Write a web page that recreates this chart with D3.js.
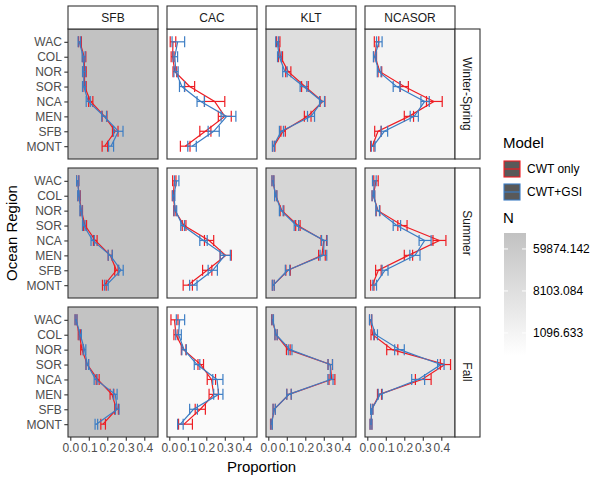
<!DOCTYPE html>
<html><head><meta charset="utf-8">
<script src="https://cdn.jsdelivr.net/npm/d3@7"></script>
<style>body{margin:0;background:#fff} text{font-family:"Liberation Sans",Arial,sans-serif}</style>
</head><body><svg id="c" width="600" height="480"></svg>
<script>
const regions = ["WAC","COL","NOR","SOR","NCA","MEN","SFB","MONT"];
const hatcheries = ["SFB","CAC","KLT","NCASOR"];
const seasons = ["Winter-Spring","Summer","Fall"];
const models = ["CWT only","CWT+GSI"];
const xTicks = [0,0.1,0.2,0.3,0.4];
const nTicks = [1096.633, 8103.084, 59874.142];
// N per panel (hatchery order) for each season
const nWinterSpring = [128000, 384, 8400, 1100];
const nSummer = [115000, 900, 18700, 2200];
const nFall = [120000, 590, 15000, 3700];
// [estimate, lower, upper] per region, Winter-Spring
const ws_SFB_cwt = [[0.052,0.045,0.060],[0.075,0.066,0.084],[0.077,0.068,0.086],[0.077,0.068,0.086],[0.110,0.099,0.122],[0.185,0.172,0.198],[0.243,0.228,0.258],[0.186,0.172,0.202]];
const ws_SFB_gsi = [[0.048,0.042,0.056],[0.071,0.064,0.080],[0.073,0.066,0.082],[0.073,0.066,0.082],[0.097,0.086,0.108],[0.183,0.170,0.196],[0.260,0.234,0.285],[0.220,0.207,0.234]];
const ws_CAC_cwt = [[0.020,0.005,0.035],[0.018,0.010,0.026],[0.030,0.020,0.040],[0.110,0.083,0.137],[0.245,0.190,0.300],[0.300,0.265,0.335],[0.195,0.165,0.225],[0.086,0.060,0.112]];
const ws_CAC_gsi = [[0.045,0.015,0.083],[0.030,0.020,0.045],[0.035,0.025,0.048],[0.068,0.055,0.082],[0.170,0.150,0.190],[0.310,0.280,0.360],[0.240,0.210,0.270],[0.123,0.100,0.146]];
const ws_KLT_cwt = [[0.054,0.045,0.063],[0.066,0.055,0.077],[0.108,0.094,0.122],[0.198,0.180,0.216],[0.294,0.280,0.306],[0.213,0.195,0.231],[0.080,0.068,0.092],[0.030,0.024,0.036]];
const ws_KLT_gsi = [[0.048,0.040,0.056],[0.060,0.050,0.070],[0.090,0.078,0.102],[0.190,0.172,0.208],[0.290,0.277,0.304],[0.231,0.212,0.250],[0.070,0.060,0.082],[0.027,0.022,0.033]];
const ws_NCASOR_cwt = [[0.050,0.038,0.062],[0.042,0.035,0.050],[0.068,0.058,0.078],[0.200,0.178,0.222],[0.360,0.320,0.405],[0.225,0.200,0.250],[0.058,0.040,0.075],[0.027,0.018,0.036]];
const ws_NCASOR_gsi = [[0.063,0.050,0.080],[0.040,0.033,0.048],[0.063,0.054,0.074],[0.158,0.140,0.176],[0.310,0.290,0.335],[0.254,0.232,0.276],[0.092,0.075,0.110],[0.032,0.022,0.042]];
// Summer
const su_SFB_cwt = [[0.040,0.034,0.046],[0.048,0.042,0.054],[0.060,0.054,0.066],[0.080,0.072,0.088],[0.135,0.125,0.145],[0.216,0.205,0.227],[0.249,0.240,0.258],[0.184,0.174,0.194]];
const su_SFB_gsi = [[0.040,0.034,0.046],[0.046,0.040,0.052],[0.058,0.052,0.064],[0.073,0.066,0.080],[0.121,0.112,0.130],[0.216,0.205,0.227],[0.274,0.262,0.286],[0.195,0.185,0.205]];
const su_CAC_cwt = [[0.027,0.018,0.036],[0.022,0.016,0.028],[0.030,0.024,0.036],[0.080,0.070,0.090],[0.215,0.190,0.240],[0.305,0.275,0.335],[0.205,0.180,0.230],[0.100,0.075,0.125]];
const su_CAC_gsi = [[0.040,0.028,0.052],[0.024,0.018,0.030],[0.033,0.026,0.040],[0.072,0.062,0.082],[0.185,0.165,0.205],[0.300,0.275,0.330],[0.235,0.210,0.260],[0.130,0.110,0.150]];
const su_KLT_cwt = [[0.025,0.020,0.030],[0.040,0.034,0.046],[0.074,0.064,0.084],[0.160,0.148,0.172],[0.300,0.285,0.315],[0.290,0.272,0.308],[0.107,0.095,0.119],[0.027,0.022,0.032]];
const su_KLT_gsi = [[0.025,0.020,0.030],[0.040,0.034,0.046],[0.070,0.060,0.080],[0.152,0.140,0.164],[0.302,0.288,0.318],[0.298,0.280,0.316],[0.104,0.092,0.116],[0.027,0.022,0.032]];
const su_NCASOR_cwt = [[0.047,0.035,0.059],[0.033,0.026,0.040],[0.058,0.048,0.068],[0.190,0.165,0.215],[0.390,0.355,0.425],[0.222,0.200,0.245],[0.060,0.045,0.075],[0.027,0.018,0.036]];
const su_NCASOR_gsi = [[0.038,0.028,0.048],[0.033,0.026,0.040],[0.056,0.046,0.066],[0.160,0.140,0.180],[0.310,0.280,0.345],[0.258,0.230,0.285],[0.096,0.080,0.112],[0.040,0.030,0.050]];
// Fall
const fa_SFB_cwt = [[0.031,0.026,0.036],[0.049,0.043,0.055],[0.063,0.056,0.070],[0.092,0.085,0.099],[0.148,0.140,0.156],[0.225,0.215,0.235],[0.250,0.240,0.260],[0.177,0.165,0.190]];
const fa_SFB_gsi = [[0.031,0.026,0.036],[0.054,0.048,0.060],[0.077,0.070,0.084],[0.092,0.085,0.099],[0.137,0.129,0.145],[0.243,0.233,0.253],[0.254,0.244,0.264],[0.141,0.134,0.148]];
const fa_CAC_cwt = [[0.028,0.009,0.047],[0.036,0.025,0.047],[0.077,0.065,0.090],[0.170,0.155,0.185],[0.228,0.205,0.250],[0.240,0.215,0.265],[0.168,0.140,0.195],[0.080,0.050,0.125]];
const fa_CAC_gsi = [[0.056,0.038,0.083],[0.050,0.035,0.065],[0.080,0.068,0.092],[0.150,0.135,0.165],[0.258,0.235,0.290],[0.267,0.240,0.290],[0.131,0.110,0.152],[0.060,0.045,0.075]];
const fa_KLT_cwt = [[0.022,0.018,0.026],[0.042,0.036,0.048],[0.108,0.098,0.118],[0.335,0.323,0.347],[0.343,0.328,0.360],[0.112,0.100,0.124],[0.032,0.026,0.038],[0.016,0.012,0.020]];
const fa_KLT_gsi = [[0.024,0.020,0.028],[0.042,0.036,0.048],[0.118,0.108,0.128],[0.335,0.323,0.347],[0.336,0.322,0.350],[0.112,0.100,0.124],[0.032,0.026,0.038],[0.018,0.014,0.022]];
const fa_NCASOR_cwt = [[0.018,0.012,0.024],[0.029,0.020,0.038],[0.135,0.105,0.165],[0.420,0.395,0.450],[0.295,0.260,0.345],[0.066,0.055,0.077],[0.024,0.018,0.030],[0.020,0.015,0.025]];
const fa_NCASOR_gsi = [[0.018,0.012,0.024],[0.045,0.035,0.055],[0.175,0.148,0.200],[0.398,0.380,0.415],[0.275,0.240,0.310],[0.070,0.059,0.081],[0.024,0.018,0.030],[0.020,0.015,0.025]];

const panelData = [
  [[ws_SFB_cwt,ws_SFB_gsi],[ws_CAC_cwt,ws_CAC_gsi],[ws_KLT_cwt,ws_KLT_gsi],[ws_NCASOR_cwt,ws_NCASOR_gsi]],
  [[su_SFB_cwt,su_SFB_gsi],[su_CAC_cwt,su_CAC_gsi],[su_KLT_cwt,su_KLT_gsi],[su_NCASOR_cwt,su_NCASOR_gsi]],
  [[fa_SFB_cwt,fa_SFB_gsi],[fa_CAC_cwt,fa_CAC_gsi],[fa_KLT_cwt,fa_KLT_gsi],[fa_NCASOR_cwt,fa_NCASOR_gsi]]
];
const panelN = [nWinterSpring, nSummer, nFall];

const colors = ["#EE1D23","#3C7DC4"];
const svg = d3.select("#c");
const W = 90, H = 130, colStep = 99, rowStep = 139, left0 = 68, top0 = 29;

const x = d3.scaleLinear().domain([-0.0124, 0.4741]).range([0, W]);
const y = d3.scalePoint().domain(regions).range([0, H]).padding(0.86);

const allN = panelN.flat();
const nExt = d3.extent(allN);
const fillScale = d3.scaleLog().domain(nExt).range([0,1]);
const highCol = "#c2c2c2";
const fillOf = n => d3.interpolateLab("#ffffff", highCol)(fillScale(n));

const capH = 11;
const lw = 1.2;

seasons.forEach((s, r) => {
  hatcheries.forEach((h, c) => {
    const g = svg.append("g").attr("transform", `translate(${left0 + c*colStep},${top0 + r*rowStep})`);
    g.append("rect").attr("width", W).attr("height", H).attr("fill", fillOf(panelN[r][c]));
    panelData[r][c].forEach((series, m) => {
      const col = colors[m];
      const line = d3.line().x(d => x(d[0])).y((d,i) => y(regions[i]));
      g.append("path").attr("d", line(series)).attr("fill","none").attr("stroke", col).attr("stroke-width", lw);
      series.forEach((d, i) => {
        const yy = y(regions[i]);
        g.append("line").attr("x1", x(d[1])).attr("x2", x(d[2])).attr("y1", yy).attr("y2", yy).attr("stroke", col).attr("stroke-width", lw);
        [d[1], d[2]].forEach(v => {
          g.append("line").attr("x1", x(v)).attr("x2", x(v)).attr("y1", yy - capH/2).attr("y2", yy + capH/2).attr("stroke", col).attr("stroke-width", lw);
        });
      });
    });
    g.append("rect").attr("width", W).attr("height", H).attr("fill", "none").attr("stroke", "#333333").attr("stroke-width", 1.1);
    if (c === 0) {
      const ax = g.append("g").call(d3.axisLeft(y).tickSize(3.7).tickPadding(2.5));
      ax.select(".domain").remove();
      ax.selectAll("line").attr("stroke", "#333333").attr("stroke-width", 1.1);
      ax.selectAll("text").attr("fill", "#4D4D4D").style("font-size", "12px").style("font-family", '"Liberation Sans",Arial,sans-serif');
    }
    if (r === seasons.length - 1) {
      const ax = g.append("g").attr("transform", `translate(0,${H})`).call(d3.axisBottom(x).tickValues(xTicks).tickFormat(d3.format(".1f")).tickSize(3.7).tickPadding(2.5));
      ax.select(".domain").remove();
      ax.selectAll("line").attr("stroke", "#333333").attr("stroke-width", 1.1);
      ax.selectAll("text").attr("fill", "#4D4D4D").style("font-size", "12px").style("font-family", '"Liberation Sans",Arial,sans-serif');
    }
    if (r === 0) {
      const sg = svg.append("g").attr("transform", `translate(${left0 + c*colStep},${top0 - 23})`);
      sg.append("rect").attr("width", W).attr("height", 23).attr("fill", "#ffffff").attr("stroke", "#333333").attr("stroke-width", 1.1);
      sg.append("text").attr("x", W/2).attr("y", 11.5).attr("dy", "0.35em").attr("text-anchor", "middle").style("font-size", "12px").attr("fill", "#1A1A1A").text(h);
    }
    if (c === hatcheries.length - 1) {
      const sg = svg.append("g").attr("transform", `translate(${left0 + c*colStep + W},${top0 + r*rowStep})`);
      sg.append("rect").attr("width", 25).attr("height", H).attr("fill", "#ffffff").attr("stroke", "#333333").attr("stroke-width", 1.1);
      sg.append("text").attr("transform", `translate(12.5,${H/2}) rotate(90)`).attr("dy", "0.35em").attr("text-anchor", "middle").style("font-size", "12px").attr("fill", "#1A1A1A").text(s);
    }
  });
});

// axis titles
const plotL = left0, plotR = left0 + 3*colStep + W;
svg.append("text").attr("x", (plotL+plotR)/2).attr("y", 472).attr("text-anchor","middle").style("font-size","15px").attr("fill","#000").text("Proportion");
svg.append("text").attr("transform", `translate(17,${top0 + (2*rowStep + H)/2}) rotate(-90)`).attr("text-anchor","middle").style("font-size","15px").attr("fill","#000").text("Ocean Region");

// Model legend
const lg = svg.append("g").attr("transform","translate(503,0)");
lg.append("text").attr("x",0).attr("y",148).style("font-size","15px").attr("fill","#000").text("Model");
models.forEach((m,i) => {
  const ky = 161 + i*23;
  lg.append("rect").attr("x",1).attr("y",ky).attr("width",16).attr("height",16).attr("fill","#595959").attr("stroke",colors[i]).attr("stroke-width",1.1);
  lg.append("line").attr("x1",1).attr("x2",17).attr("y1",ky+8).attr("y2",ky+8).attr("stroke",colors[i]).attr("stroke-width",lw);
  lg.append("text").attr("x",24).attr("y",ky+8).attr("dy","0.35em").style("font-size","12px").attr("fill","#000").text(m);
});

// N colourbar
lg.append("text").attr("x",0).attr("y",223).style("font-size","15px").attr("fill","#000").text("N");
const cbTop = 233, cbH = 122, cbW = 22;
const cbScale = d3.scaleLog().domain(nExt).range([cbTop + cbH, cbTop]);
const defs = svg.append("defs");
const grad = defs.append("linearGradient").attr("id","ng").attr("x1",0).attr("x2",0).attr("y1",1).attr("y2",0);
d3.range(0,1.0001,0.1).forEach(t => grad.append("stop").attr("offset",t).attr("stop-color", d3.interpolateLab("#ffffff", highCol)(t)));
lg.append("rect").attr("x",1).attr("y",cbTop).attr("width",cbW).attr("height",cbH).attr("fill","url(#ng)");
nTicks.forEach(v => {
  const yy = cbScale(v);
  lg.append("line").attr("x1",1).attr("x2",5).attr("y1",yy).attr("y2",yy).attr("stroke","#fff");
  lg.append("line").attr("x1",cbW-3).attr("x2",cbW+1).attr("y1",yy).attr("y2",yy).attr("stroke","#fff");
  lg.append("text").attr("x",cbW+8).attr("y",yy).attr("dy","0.35em").style("font-size","12px").attr("fill","#000").text(d3.format(".3f")(v));
});
</script></body></html>
